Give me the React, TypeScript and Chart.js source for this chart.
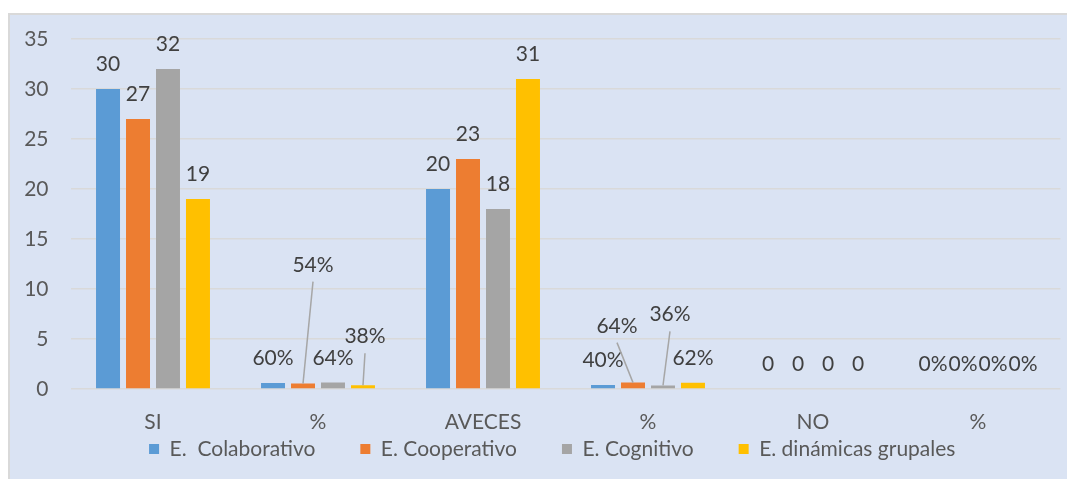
import React, { useEffect, useRef } from "react";
import { Chart, registerables } from "chart.js";

Chart.register(...registerables);

// ---- data ----
const categories = ["SI", "%", "AVECES", "%", "NO", "%"];
const seriesNames = ["E.  Colaborativo", "E. Cooperativo", "E. Cognitivo", "E. dinámicas grupales"];
const colaborativo = [30, 0.6, 20, 0.4, 0, 0];
const cooperativo = [27, 0.54, 23, 0.64, 0, 0];
const cognitivo = [32, 0.64, 18, 0.36, 0, 0];
const dinamicas = [19, 0.38, 31, 0.62, 0, 0];
const yMin = 0;
const yMax = 35;
const yStep = 5;
const percentCategoryIndexes = [1, 3, 5];

// ---- style ----
const COLORS = ["#5B9BD5", "#ED7D31", "#A5A5A5", "#FFC000"];
const FONT = "Lato";
const FONT_SIZE = 21;
const LEGEND_GAP = 45;
// labels displaced from their bars (drawn with leader lines): "dataset-index" -> [dx, dy]
const LABEL_SHIFTS: Record<string, [number, number]> = {
  "1-1": [10, -94],
  "3-1": [2, -24],
  "1-3": [-16, -32],
  "2-3": [7, -46],
};

const dataLabels = {
  id: "dataLabels",
  afterDatasetsDraw(chart: any) {
    const ctx = chart.ctx;
    ctx.save();
    ctx.font = `${FONT_SIZE}px ${FONT}`;
    ctx.textAlign = "center";
    ctx.textBaseline = "alphabetic";
    chart.data.datasets.forEach((ds: any, di: number) => {
      const meta = chart.getDatasetMeta(di);
      meta.data.forEach((bar: any, i: number) => {
        const v = ds.data[i];
        const text = percentCategoryIndexes.includes(i) ? `${Math.round(v * 100)}%` : String(v);
        const shift = LABEL_SHIFTS[`${di}-${i}`];
        const bx = bar.x;
        const by = bar.y;
        let lx = bx;
        let ly = by - 18;
        if (shift) {
          lx += shift[0];
          ly += shift[1];
          ctx.strokeStyle = "#A6A6A6";
          ctx.lineWidth = 1.5;
          ctx.beginPath();
          ctx.moveTo(lx, ly + 10);
          ctx.lineTo(bx, by);
          ctx.stroke();
        }
        ctx.fillStyle = "#404040";
        ctx.fillText(text, lx, ly);
      });
    });
    ctx.restore();
  },
};

const layoutTweaks = {
  id: "layoutTweaks",
  beforeInit(chart: any) {
    const lg = chart.legend;
    if (lg && !lg.__patched) {
      const orig = lg.fit;
      lg.fit = function () {
        orig.call(this);
        this.height = 48;
      };
      lg.__patched = true;
    }
  },
  afterLayout(chart: any) {
    const lg = chart.legend;
    if (!lg) return;
    // legend centred a little right of the canvas centre, text centre at y=441
    lg.left = 36;
    lg.width = lg.right - lg.left;
    lg.top = 441 - LEGEND_GAP - FONT_SIZE / 2;
    lg.bottom = chart.height;
    lg.height = lg.bottom - lg.top;
  },
};

const noScalePadding = (s: any) => {
  s.paddingTop = 0;
  s.paddingBottom = 0;
  s.paddingLeft = 0;
  s.paddingRight = 0;
};

export default function App() {
  const canvasRef = useRef<HTMLCanvasElement | null>(null);

  useEffect(() => {
    if (!canvasRef.current) return;
    const seriesValues = [colaborativo, cooperativo, cognitivo, dinamicas];
    const chart = new Chart(canvasRef.current, {
      type: "bar",
      data: {
        labels: categories,
        datasets: seriesNames.map((name, k) => ({
          label: name,
          data: seriesValues[k],
          backgroundColor: COLORS[k],
          borderWidth: 0,
          categoryPercentage: 0.727,
          barPercentage: 0.8,
        })),
      },
      options: {
        animation: false,
        responsive: true,
        maintainAspectRatio: false,
        layout: { padding: { left: 0, right: 14.5, top: 31, bottom: 0 } },
        plugins: {
          legend: {
            position: "bottom",
            labels: {
              boxWidth: 10,
              boxHeight: 10,
              padding: LEGEND_GAP,
              color: "#595959",
              font: { size: FONT_SIZE, family: FONT },
            },
          },
          tooltip: { enabled: false },
        },
        scales: {
          x: {
            grid: { display: false },
            border: { display: false },
            ticks: { color: "#595959", font: { size: FONT_SIZE, family: FONT }, padding: 13, maxRotation: 0 },
            afterFit: (s: any) => {
              s.height = 42;
              noScalePadding(s);
            },
          },
          y: {
            min: yMin,
            max: yMax,
            ticks: { stepSize: yStep, color: "#595959", font: { size: FONT_SIZE, family: FONT }, padding: 22 },
            grid: { color: "#D9D9D9", lineWidth: 1.5, drawTicks: false },
            border: { display: false },
            afterFit: (s: any) => {
              s.width = 62.5;
              noScalePadding(s);
            },
          },
        },
      },
      plugins: [dataLabels, layoutTweaks],
    } as any);
    return () => chart.destroy();
  }, []);

  return (
    <div style={{ position: "relative", width: 1067, height: 471 }}>
      <div
        style={{
          position: "absolute",
          left: 0,
          top: 5,
          width: 1067,
          height: 466,
          boxSizing: "border-box",
          borderTop: "2px solid #D9D9D9",
          borderLeft: "2px solid #D9D9D9",
          background: "#DAE3F3",
        }}
      />
      <div style={{ position: "absolute", left: 0, top: 0, width: 1067, height: 471 }}>
        <canvas ref={canvasRef} />
      </div>
    </div>
  );
}
